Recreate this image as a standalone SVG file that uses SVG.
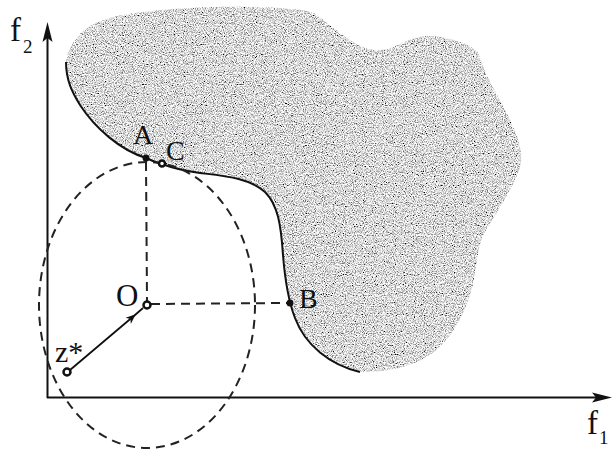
<svg xmlns="http://www.w3.org/2000/svg" width="613" height="451" viewBox="0 0 613 451">
<style>
.lbl{font-family:"Liberation Serif","Times New Roman",serif;fill:#111;}
.axis{stroke:#111;stroke-width:2;fill:none;}
.dash{stroke:#222;stroke-width:2;fill:none;stroke-dasharray:9,6;}
.pt{fill:#111;}
.ring{fill:#fff;stroke:#111;stroke-width:2.5;}
</style>
<defs>
<filter id="stip" x="-5%" y="-5%" width="110%" height="110%">
<feTurbulence type="fractalNoise" baseFrequency="0.9" numOctaves="2" seed="7" result="n"/>
<feColorMatrix in="n" type="matrix" values="2.4 0 0 0 -0.5  2.4 0 0 0 -0.5  2.4 0 0 0 -0.5  0 0 0 0 1" result="g"/>
<feComposite in="g" in2="SourceGraphic" operator="in"/>
</filter>
<marker id="ah" viewBox="0 0 10 10" refX="9" refY="5" markerWidth="10" markerHeight="10" markerUnits="userSpaceOnUse" orient="auto">
<path d="M0,1 L10,5 L0,9 L3,5 Z" fill="#111"/>
</marker>
</defs>

<g id="region">
<path id="blob" filter="url(#stip)" fill="#aaa" d="M66,62 C70,40 85,24 110,18 C140,10 200,6 250,7 C285,8 305,9 315,14 C330,24 345,40 365,48 C378,52 388,50 400,44 C415,36 430,34 445,38 C465,42 478,48 480,58 C485,75 495,90 505,110 C515,130 525,150 520,168 C512,190 495,215 485,232 C475,250 478,270 470,295 C462,320 450,340 430,355 C410,368 385,372 360,372 C330,365 305,345 295,318 C288,300 285,280 283,255 C281,225 278,205 265,192 C250,178 225,176 200,173 C185,171 170,167 162,164 C155,162 150,160 146,158 C120,150 95,128 80,105 C72,92 66,80 66,62 Z"/>
<path id="front" fill="none" stroke="#111" stroke-width="2" d="M66,62 C66,80 72,92 80,105 C95,128 120,150 146,158 C150,160 155,162 162,164 C170,167 185,171 200,173 C225,176 250,178 265,192 C278,205 281,225 283,255 C285,280 288,300 295,318 C305,345 330,365 360,372"/>
</g>

<g id="axes">
<line class="axis" x1="47.5" y1="398" x2="47.5" y2="36"/>
<path d="M47.5,22 L52.5,42 L47.5,38 L42.5,42 Z" fill="#111"/>
<line class="axis" x1="47" y1="397.5" x2="598" y2="397.5"/>
<path d="M612,397.5 L592,392.5 L596,397.5 L592,402.5 Z" fill="#111"/>
<text class="lbl" x="10" y="41" font-size="33">f</text>
<text class="lbl" x="23" y="53" font-size="19">2</text>
<text class="lbl" x="587" y="434" font-size="33">f</text>
<text class="lbl" x="599" y="444" font-size="19">1</text>
</g>

<g id="connectors">
<ellipse class="dash" cx="147" cy="305" rx="108" ry="143"/>
<line class="dash" x1="146" y1="162" x2="147" y2="301"/>
<line class="dash" x1="151" y1="304" x2="288" y2="303"/>
<path d="M70,370 L135,315 L143,308" fill="none" stroke="#111" stroke-width="1.8" marker-mid="url(#ah)"/>
</g>

<g id="node-A">
<circle class="pt" cx="146" cy="158" r="3.5"/>
<text class="lbl" x="133" y="144" font-size="28">A</text>
</g>
<g id="node-C">
<circle class="ring" cx="162" cy="163.5" r="3"/>
<text class="lbl" x="166" y="160" font-size="28">C</text>
</g>
<g id="node-O">
<circle class="ring" cx="147" cy="305" r="3.5"/>
<text class="lbl" x="116" y="306" font-size="31">O</text>
</g>
<g id="node-B">
<circle class="pt" cx="290" cy="303" r="3.5"/>
<text class="lbl" x="299" y="308" font-size="28">B</text>
</g>
<g id="node-z">
<circle class="ring" cx="67" cy="372" r="3.5"/>
<text class="lbl" x="55" y="362" font-size="30">z*</text>
</g>
</svg>
